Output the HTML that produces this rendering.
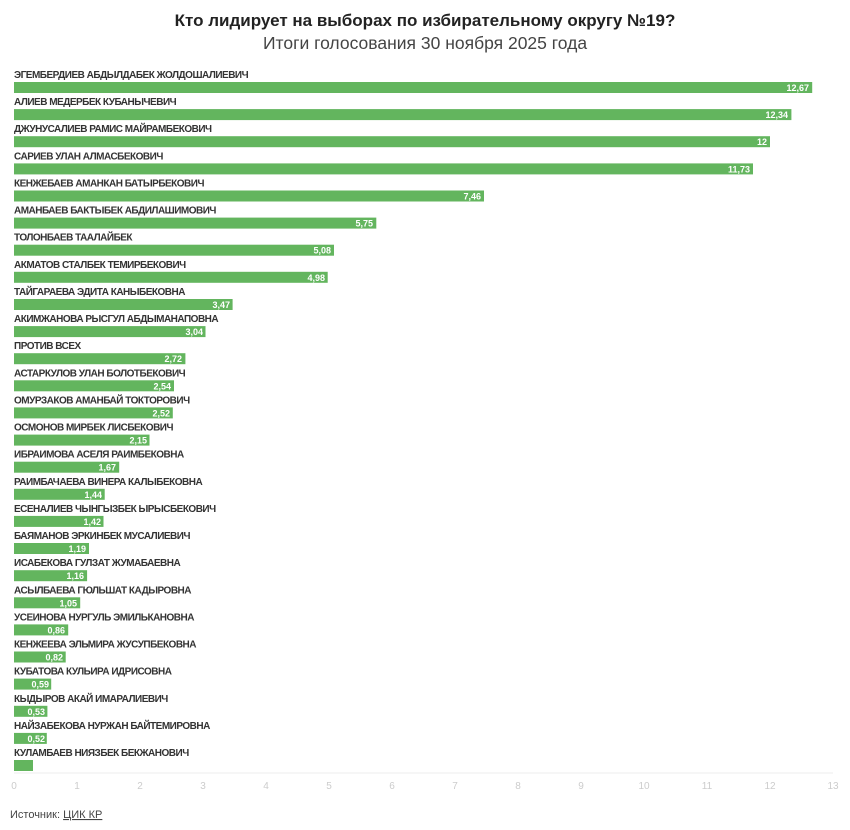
<!DOCTYPE html>
<html><head><meta charset="utf-8"><style>
body{margin:0;background:#fff;}
svg{display:block;font-family:"Liberation Sans",sans-serif;}
.l{font-size:10px;font-weight:bold;fill:#333;letter-spacing:-0.5px;}
.v{font-size:9px;font-weight:bold;fill:#fff;text-anchor:end;}
.t{font-size:10px;fill:#ccc;text-anchor:middle;}
rect{fill:#63b55e;}
</style></head><body>
<svg width="850" height="830" viewBox="0 0 850 830">
<text x="425" y="26" text-anchor="middle" font-size="17" font-weight="bold" fill="#222">Кто лидирует на выборах по избирательному округу №19?</text>
<text x="425" y="49" text-anchor="middle" font-size="17.5" fill="#444">Итоги голосования 30 ноября 2025 года</text>
<g>
<text class="l" x="14" y="78">ЭГЕМБЕРДИЕВ АБДЫЛДАБЕК ЖОЛДОШАЛИЕВИЧ</text><rect x="14" y="82" width="798.2" height="11"/><text class="v" x="809" y="91">12,67</text>
<text class="l" x="14" y="105.1">АЛИЕВ МЕДЕРБЕК КУБАНЫЧЕВИЧ</text><rect x="14" y="109.1" width="777.4" height="11"/><text class="v" x="788" y="118.1">12,34</text>
<text class="l" x="14" y="132.2">ДЖУНУСАЛИЕВ РАМИС МАЙРАМБЕКОВИЧ</text><rect x="14" y="136.2" width="756" height="11"/><text class="v" x="767" y="145.2">12</text>
<text class="l" x="14" y="159.4">САРИЕВ УЛАН АЛМАСБЕКОВИЧ</text><rect x="14" y="163.4" width="739" height="11"/><text class="v" x="750" y="172.4">11,73</text>
<text class="l" x="14" y="186.5">КЕНЖЕБАЕВ АМАНКАН БАТЫРБЕКОВИЧ</text><rect x="14" y="190.5" width="470" height="11"/><text class="v" x="481" y="199.5">7,46</text>
<text class="l" x="14" y="213.6">АМАНБАЕВ БАКТЫБЕК АБДИЛАШИМОВИЧ</text><rect x="14" y="217.6" width="362.3" height="11"/><text class="v" x="373" y="226.6">5,75</text>
<text class="l" x="14" y="240.7">ТОЛОНБАЕВ ТААЛАЙБЕК</text><rect x="14" y="244.7" width="320" height="11"/><text class="v" x="331" y="253.7">5,08</text>
<text class="l" x="14" y="267.8">АКМАТОВ СТАЛБЕК ТЕМИРБЕКОВИЧ</text><rect x="14" y="271.8" width="313.7" height="11"/><text class="v" x="325" y="280.8">4,98</text>
<text class="l" x="14" y="295">ТАЙГАРАЕВА ЭДИТА КАНЫБЕКОВНА</text><rect x="14" y="299" width="218.6" height="11"/><text class="v" x="230" y="308">3,47</text>
<text class="l" x="14" y="322.1">АКИМЖАНОВА РЫСГУЛ АБДЫМАНАПОВНА</text><rect x="14" y="326.1" width="191.5" height="11"/><text class="v" x="203" y="335.1">3,04</text>
<text class="l" x="14" y="349.2">ПРОТИВ ВСЕХ</text><rect x="14" y="353.2" width="171.4" height="11"/><text class="v" x="182" y="362.2">2,72</text>
<text class="l" x="14" y="376.3">АСТАРКУЛОВ УЛАН БОЛОТБЕКОВИЧ</text><rect x="14" y="380.3" width="160" height="11"/><text class="v" x="171" y="389.3">2,54</text>
<text class="l" x="14" y="403.4">ОМУРЗАКОВ АМАНБАЙ ТОКТОРОВИЧ</text><rect x="14" y="407.4" width="158.8" height="11"/><text class="v" x="170" y="416.4">2,52</text>
<text class="l" x="14" y="430.6">ОСМОНОВ МИРБЕК ЛИСБЕКОВИЧ</text><rect x="14" y="434.6" width="135.5" height="11"/><text class="v" x="147" y="443.6">2,15</text>
<text class="l" x="14" y="457.7">ИБРАИМОВА АСЕЛЯ РАИМБЕКОВНА</text><rect x="14" y="461.7" width="105.2" height="11"/><text class="v" x="116" y="470.7">1,67</text>
<text class="l" x="14" y="484.8">РАИМБАЧАЕВА ВИНЕРА КАЛЫБЕКОВНА</text><rect x="14" y="488.8" width="90.7" height="11"/><text class="v" x="102" y="497.8">1,44</text>
<text class="l" x="14" y="511.9">ЕСЕНАЛИЕВ ЧЫНГЫЗБЕК ЫРЫСБЕКОВИЧ</text><rect x="14" y="515.9" width="89.5" height="11"/><text class="v" x="101" y="524.9">1,42</text>
<text class="l" x="14" y="539">БАЯМАНОВ ЭРКИНБЕК МУСАЛИЕВИЧ</text><rect x="14" y="543" width="75" height="11"/><text class="v" x="86" y="552">1,19</text>
<text class="l" x="14" y="566.2">ИСАБЕКОВА ГУЛЗАТ ЖУМАБАЕВНА</text><rect x="14" y="570.2" width="73.1" height="11"/><text class="v" x="84" y="579.2">1,16</text>
<text class="l" x="14" y="593.3">АСЫЛБАЕВА ГЮЛЬШАТ КАДЫРОВНА</text><rect x="14" y="597.3" width="66.2" height="11"/><text class="v" x="77" y="606.3">1,05</text>
<text class="l" x="14" y="620.4">УСЕИНОВА НУРГУЛЬ ЭМИЛЬКАНОВНА</text><rect x="14" y="624.4" width="54.2" height="11"/><text class="v" x="65" y="633.4">0,86</text>
<text class="l" x="14" y="647.5">КЕНЖЕЕВА ЭЛЬМИРА ЖУСУПБЕКОВНА</text><rect x="14" y="651.5" width="51.7" height="11"/><text class="v" x="63" y="660.5">0,82</text>
<text class="l" x="14" y="674.6">КУБАТОВА КУЛЬИРА ИДРИСОВНА</text><rect x="14" y="678.6" width="37.2" height="11"/><text class="v" x="49" y="687.6">0,59</text>
<text class="l" x="14" y="701.8">КЫДЫРОВ АКАЙ ИМАРАЛИЕВИЧ</text><rect x="14" y="705.8" width="33.4" height="11"/><text class="v" x="45" y="714.8">0,53</text>
<text class="l" x="14" y="728.9">НАЙЗАБЕКОВА НУРЖАН БАЙТЕМИРОВНА</text><rect x="14" y="732.9" width="32.8" height="11"/><text class="v" x="45" y="741.9">0,52</text>
<text class="l" x="14" y="756">КУЛАМБАЕВ НИЯЗБЕК БЕКЖАНОВИЧ</text><rect x="14" y="760" width="19" height="11"/>
</g>
<line x1="14" y1="773" x2="833" y2="773" stroke="#eee" stroke-width="1"/>
<g>
<text class="t" x="14" y="789">0</text><text class="t" x="77" y="789">1</text><text class="t" x="140" y="789">2</text><text class="t" x="203" y="789">3</text><text class="t" x="266" y="789">4</text><text class="t" x="329" y="789">5</text><text class="t" x="392" y="789">6</text><text class="t" x="455" y="789">7</text><text class="t" x="518" y="789">8</text><text class="t" x="581" y="789">9</text><text class="t" x="644" y="789">10</text><text class="t" x="707" y="789">11</text><text class="t" x="770" y="789">12</text><text class="t" x="833" y="789">13</text>
</g>
<text x="10" y="818" font-size="11" fill="#444">Источник: <tspan text-decoration="underline">ЦИК КР</tspan></text>
</svg>
</body></html>
